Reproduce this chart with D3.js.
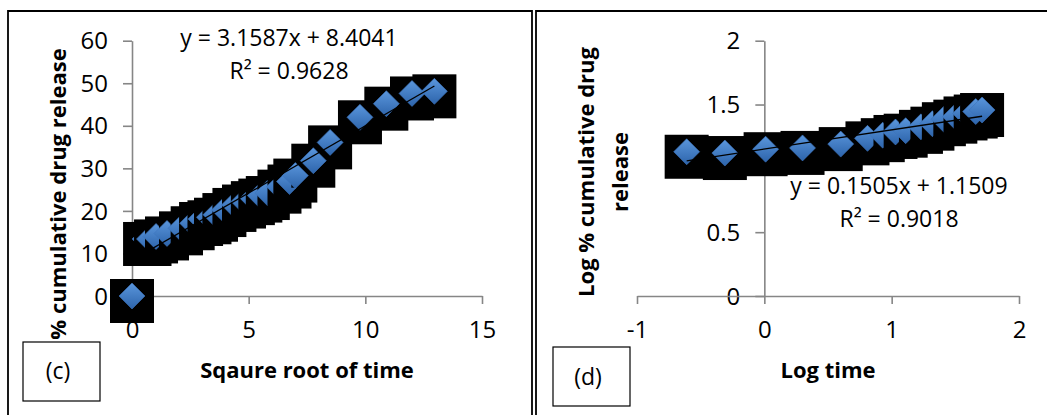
<!DOCTYPE html>
<html>
<head>
<meta charset="utf-8">
<script src="https://cdn.jsdelivr.net/npm/d3@7"></script>
<style>
    body { margin: 0; background: #fff; }
    svg { display: block; font-family: "Open Sans", sans-serif; }
</style>
</head>
<body>
<div id="chart"></div>
<script>
// Panel (c) - Higuchi plot
const cSqrtTime = [0, 0.56, 0.75, 1.03, 1.5, 2.1, 2.6, 2.96, 3.32, 3.6, 3.96, 4.39, 4.8, 5.18, 5.5, 5.82, 6.32, 6.75, 7.0, 7.77, 8.49, 9.77, 10.9, 12.0, 12.96];
const cRelease = [0, 13.4, 13.4, 14.0, 14.7, 15.9, 17.1, 18.1, 18.5, 19.1, 20.2, 21.4, 22.2, 23.0, 23.6, 24.2, 25.7, 26.9, 28.3, 31.8, 36.1, 42.0, 45.2, 47.6, 48.1];
const cXTicks = [0, 5, 10, 15];
const cYTicks = [0, 10, 20, 30, 40, 50, 60];
const cFit = [3.1587, 8.4041];   // slope, intercept from the label

// Panel (d) - Korsmeyer-Peppas plot
const dLogTime = [-0.61, -0.31, 0.01, 0.30, 0.60, 0.81, 0.93, 1.03, 1.11, 1.23, 1.32, 1.41, 1.50, 1.58, 1.66, 1.71];
const dLogRelease = [1.13, 1.12, 1.15, 1.16, 1.19, 1.235, 1.26, 1.285, 1.295, 1.325, 1.35, 1.385, 1.405, 1.43, 1.445, 1.457];
const dXTicks = [-1, 0, 1, 2];
const dYTicks = [0, 0.5, 1, 1.5, 2];
const dFit = [0.1505, 1.1509];

const W = 1047, H = 415;
const axisColor = "#868686";

const svg = d3.select("#chart")
    .append("svg")
    .attr("width", W)
    .attr("height", H);

// marker gradient (excel style shaded diamond)
const grad = svg.append("defs").append("linearGradient")
    .attr("id", "mk")
    .attr("x1", 0).attr("y1", 0).attr("x2", 0).attr("y2", 1);
grad.append("stop").attr("offset", "0%").attr("stop-color", "#5a96dc");
grad.append("stop").attr("offset", "100%").attr("stop-color", "#2d64ab");

// frames
svg.append("path")
    .attr("d", "M8,415 V11 H532 V415")
    .attr("fill", "none").attr("stroke", "#000").attr("stroke-width", 1.8);
svg.append("path")
    .attr("d", "M536,415 V11 H1047")
    .attr("fill", "none").attr("stroke", "#000").attr("stroke-width", 1.8);

function diamond(cx, cy, r) {
    return "M" + cx + "," + (cy - r) + "L" + (cx + r) + "," + cy +
        "L" + cx + "," + (cy + r) + "L" + (cx - r) + "," + cy + "Z";
}

function drawPanel(p) {
    const g = svg.append("g");

    const x = d3.scaleLinear().domain(p.xDomain).range(p.xRange);
    const y = d3.scaleLinear().domain(p.yDomain).range([296, 40.7]);

    // y axis sits at x = 0
    const yAxis = g.append("g")
        .attr("transform", "translate(" + x(0) + ",0)")
        .call(d3.axisLeft(y).tickValues(p.yTicks).tickSize(9).tickSizeOuter(0)
            .tickPadding(15).tickFormat(d => String(d)));
    const xAxis = g.append("g")
        .attr("transform", "translate(0," + y(0) + ")")
        .call(d3.axisBottom(x).tickValues(p.xTicks).tickSize(8).tickSizeOuter(0)
            .tickFormat(d => String(d)));

    [yAxis, xAxis].forEach(a => {
        a.select(".domain").attr("stroke", axisColor).attr("stroke-width", 1.6);
        a.selectAll(".tick line").attr("stroke", axisColor).attr("stroke-width", 1.6);
        a.selectAll("text").attr("fill", "#000").style("font-size", "24px")
            .style("font-family", "'Open Sans', sans-serif");
    });
    yAxis.selectAll("text").attr("dy", "0.34em");
    xAxis.selectAll("text").attr("y", 42).attr("dy", 0);

    // points: black backing squares, each diamond laid down one step late
    // so the following square clips it (as in the source render)
    const pts = p.xs.map((v, i) => [x(v), y(p.ys[i])]);
    const r = 13;
    pts.forEach(([cx, cy], i) => {
        g.append("rect")
            .attr("x", cx - 22).attr("y", cy - 17)
            .attr("width", 44).attr("height", 44)
            .attr("fill", "#000");
        if (i > 0) {
            g.append("path")
                .attr("d", diamond(pts[i - 1][0], pts[i - 1][1], r))
                .attr("fill", "url(#mk)")
                .attr("stroke", "#3c74bd").attr("stroke-width", 0.6);
        }
    });
    const last = pts[pts.length - 1];
    g.append("path")
        .attr("d", diamond(last[0], last[1], r))
        .attr("fill", "url(#mk)")
        .attr("stroke", "#3c74bd").attr("stroke-width", 0.6);

    // linear trendline
    const x0 = d3.min(p.xs), x1 = d3.max(p.xs);
    g.append("line")
        .attr("x1", x(x0)).attr("y1", y(p.fit[0] * x0 + p.fit[1]))
        .attr("x2", x(x1)).attr("y2", y(p.fit[0] * x1 + p.fit[1]))
        .attr("stroke", "#000").attr("stroke-width", 1.3);

    // equation
    g.append("text")
        .attr("x", p.eqX).attr("y", p.eqY)
        .attr("text-anchor", "middle").style("font-size", "23px")
        .text("y = " + p.fit[0] + "x + " + p.fit[1]);
    g.append("text")
        .attr("x", p.eqX).attr("y", p.eqY + 32.6)
        .attr("text-anchor", "middle").style("font-size", "23px")
        .text("R² = " + p.r2);

    // axis titles
    g.append("text")
        .attr("x", p.xTitleX).attr("y", 378)
        .attr("text-anchor", "middle")
        .style("font-size", "22px").style("font-weight", "bold")
        .text(p.xTitle);
    p.yTitle.forEach((line, i) => {
        g.append("text")
            .attr("transform", "translate(" + p.yTitleX[i] + "," + p.yTitleY + ") rotate(-90)")
            .attr("text-anchor", "middle")
            .style("font-size", "22px").style("font-weight", "bold")
            .text(line);
    });

    // panel tag box
    g.append("rect")
        .attr("x", p.box[0]).attr("y", p.box[1])
        .attr("width", p.box[2]).attr("height", p.box[3])
        .attr("fill", "#fff").attr("stroke", "#000").attr("stroke-width", 1.2);
    g.append("text")
        .attr("x", p.tagPos[0]).attr("y", p.tagPos[1])
        .attr("text-anchor", "middle").style("font-size", "23px")
        .text(p.tag);
}

drawPanel({
    xs: cSqrtTime, ys: cRelease, fit: cFit, r2: "0.9628",
    xDomain: [0, 15], xRange: [132, 482], yDomain: [0, 60],
    xTicks: cXTicks, yTicks: cYTicks,
    eqX: 289, eqY: 46,
    xTitle: "Sqaure root of time", xTitleX: 307,
    yTitle: ["% cumulative drug release"], yTitleX: [66], yTitleY: 194,
    box: [23, 342, 77, 59], tag: "(c)", tagPos: [58, 379]
});

drawPanel({
    xs: dLogTime, ys: dLogRelease, fit: dFit, r2: "0.9018",
    xDomain: [-1, 2], xRange: [637, 1019], yDomain: [0, 2],
    xTicks: dXTicks, yTicks: dYTicks,
    eqX: 899, eqY: 194,
    xTitle: "Log time", xTitleX: 828,
    yTitle: ["Log % cumulative drug", "release"], yTitleX: [594, 628], yTitleY: 172,
    box: [553, 347, 77, 59], tag: "(d)", tagPos: [588, 385]
});
</script>
</body>
</html>
